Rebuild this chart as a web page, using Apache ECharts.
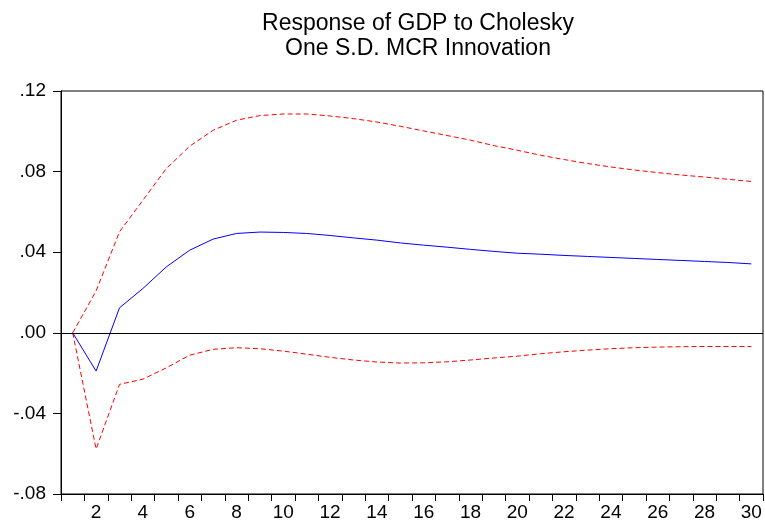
<!DOCTYPE html>
<html>
<head>
<meta charset="utf-8">
<script src="https://cdn.jsdelivr.net/npm/echarts@6/dist/echarts.min.js"></script>
<style>
  html, body { margin: 0; padding: 0; background: #fff; }
  #chart { width: 765px; height: 523px; }
</style>
</head>
<body>
<div id="chart"></div>
<script>
// Impulse response periods
const periods = Array.from({ length: 30 }, (_, i) => String(i + 1));

// Response of GDP to a one S.D. MCR shock
const response = [
  0, -0.0190, 0.0124, 0.0220, 0.0327, 0.0410, 0.0465, 0.0493, 0.0500, 0.0498,
  0.0493, 0.0483, 0.0471, 0.0460, 0.0446, 0.0435, 0.0425, 0.0414, 0.0404, 0.0395,
  0.0390, 0.0384, 0.0379, 0.0374, 0.0369, 0.0364, 0.0359, 0.0354, 0.0349, 0.0342
];

// +/- 2 S.E. bands
const upperBand = [
  0, 0.0208, 0.0501, 0.0658, 0.0815, 0.0926, 0.1005, 0.1055, 0.1078, 0.1086,
  0.1086, 0.1076, 0.1063, 0.1046, 0.1025, 0.1002, 0.0979, 0.0956, 0.0929, 0.0906,
  0.0881, 0.0860, 0.0840, 0.0823, 0.0808, 0.0795, 0.0783, 0.0773, 0.0762, 0.0751
];
const lowerBand = [
  0, -0.0577, -0.0256, -0.0230, -0.0174, -0.0111, -0.0082, -0.0074, -0.0079, -0.0091,
  -0.0106, -0.0122, -0.0135, -0.0145, -0.0150, -0.0149, -0.0144, -0.0135, -0.0125, -0.0116,
  -0.0104, -0.0094, -0.0086, -0.0079, -0.0074, -0.0071, -0.0069, -0.0068, -0.0068, -0.0068
];

const titleLines = ['Response of GDP to Cholesky', 'One S.D. MCR Innovation'];

const FONT = 'Liberation Sans, Arial, sans-serif';
const chart = echarts.init(document.getElementById('chart'), null, { renderer: 'canvas' });

const fmtTick = v => {
  const s = Number(v).toFixed(2);
  return s.replace(/^(-?)0\./, '$1.');
};

chart.setOption({
  animation: false,
  backgroundColor: '#fff',
  title: {
    text: titleLines.join('\n'),
    left: 413,
    textAlign: 'center',
    top: 6,
    textStyle: { fontFamily: FONT, fontSize: 23, fontWeight: 'normal', color: '#000', lineHeight: 25 }
  },
  grid: {
    left: 61, right: 2, top: 91, bottom: 29,
    show: true, borderColor: '#000', borderWidth: 1, backgroundColor: 'transparent'
  },
  xAxis: {
    type: 'category',
    data: periods,
    boundaryGap: true,
    axisLine: { onZero: false, lineStyle: { color: '#000', width: 1 } },
    axisTick: { show: true, interval: 0, inside: false, length: 7, lineStyle: { color: '#000', width: 1 } },
    axisLabel: {
      interval: (idx) => idx % 2 === 1,
      margin: 9,
      color: '#000', fontFamily: FONT, fontSize: 19
    },
    splitLine: { show: false }
  },
  yAxis: {
    type: 'value',
    min: -0.08, max: 0.12, interval: 0.04,
    axisLine: { show: true, onZero: false, lineStyle: { color: '#000', width: 1 } },
    axisTick: { show: true, inside: false, length: 8, lineStyle: { color: '#000', width: 1 } },
    axisLabel: { formatter: fmtTick, margin: 15, color: '#000', fontFamily: FONT, fontSize: 19 },
    splitLine: { show: false }
  },
  series: [
    {
      name: 'upper', type: 'line', data: upperBand, symbol: 'none', smooth: false,
      lineStyle: { color: '#ff0000', width: 1, type: [5, 3] }
    },
    {
      name: 'lower', type: 'line', data: lowerBand, symbol: 'none', smooth: false,
      lineStyle: { color: '#ff0000', width: 1, type: [5, 3] }
    },
    {
      name: 'response', type: 'line', data: response, symbol: 'none', smooth: false,
      lineStyle: { color: '#0000ff', width: 1 },
      markLine: {
        silent: true, symbol: 'none', label: { show: false },
        lineStyle: { color: '#000', width: 1, type: 'solid' },
        data: [{ yAxis: 0 }]
      }
    }
  ]
});
</script>
</body>
</html>
